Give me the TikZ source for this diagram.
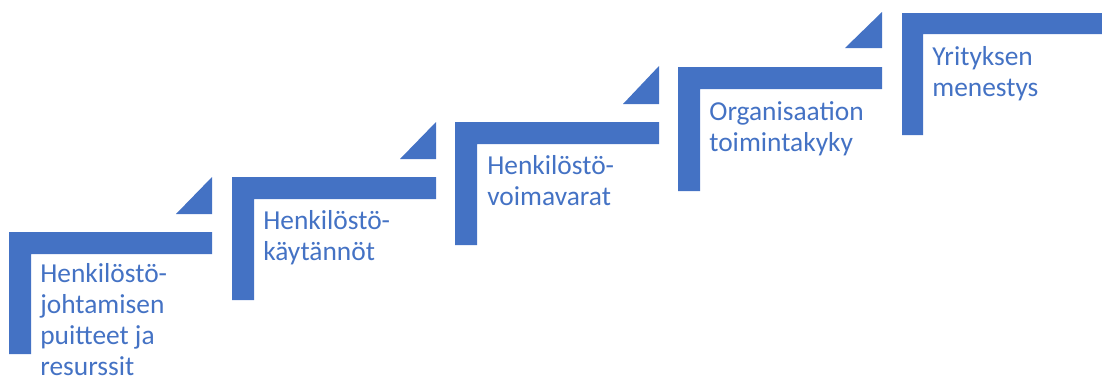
\documentclass[tikz,border=0pt]{standalone}
\usepackage{fontspec}
\setmainfont{Carlito}
\definecolor{stairblue}{HTML}{4472C4}

\begin{document}
\begin{tikzpicture}[x=0.02cm,y=-0.02cm,
    stair/.style={fill=stairblue,draw=none},
    stairtext/.style={anchor=base west,inner sep=0pt,align=left,text=stairblue,
        font=\fontsize{15.6}{17.5}\selectfont}]
                    \useasboundingbox (0,0) rectangle (1102,379);

                    % step 1 (text anchored on the baseline of its last line)
                    \fill[stair] (9,232)--(212,232)--(212,254)--(31,254)--(31,354)--(9,354)--cycle;
                    \fill[stair] (176,214)--(212,214)--(212,177)--cycle;
                    \node[stairtext] (puitteet) at (40,375) {Henkilöstö-\\johtamisen\\puitteet ja\\resurssit};

                    % step 2
                    \fill[stair] (232,177)--(436,177)--(436,199)--(254,199)--(254,300)--(232,300)--cycle;
                    \fill[stair] (400,159)--(436,159)--(436,122)--cycle;
                    \node[stairtext] (kaytannot) at (263,260) {Henkilöstö-\\käytännöt};

                    % step 3
                    \fill[stair] (455,122)--(659,122)--(659,144)--(477,144)--(477,245)--(455,245)--cycle;
                    \fill[stair] (623,104)--(659,104)--(659,66)--cycle;
                    \node[stairtext] (voimavarat) at (487,205) {Henkilöstö-\\voimavarat};

                    % step 4
                    \fill[stair] (678,67)--(882,67)--(882,89)--(700,89)--(700,191)--(678,191)--cycle;
                    \fill[stair] (845,48)--(882,48)--(882,12)--cycle;
                    \node[stairtext] (toimintakyky) at (709,151) {Organisaation\\toimintakyky};

                    % step 5, runs to the right edge
                    \fill[stair] (902,13)--(1102,13)--(1102,34)--(923,34)--(923,135)--(902,135)--cycle;
                    \node[stairtext] (menestys) at (932,96) {Yrityksen\\menestys};
                \end{tikzpicture}
\end{document}
